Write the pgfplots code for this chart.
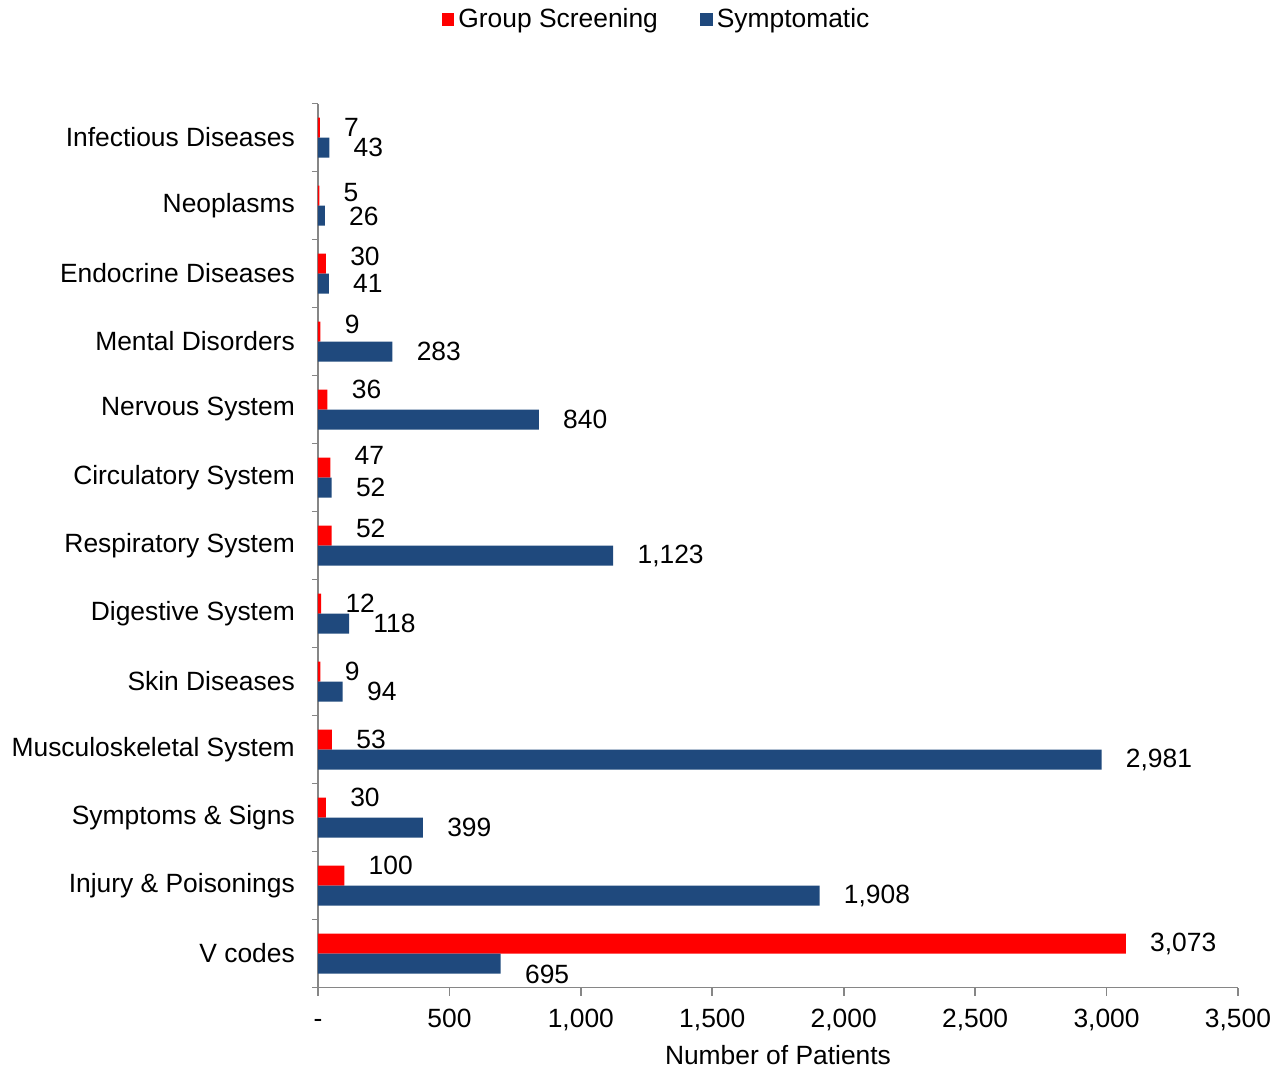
\documentclass[border=0pt]{standalone}
\usepackage{pgfplots}
\pgfplotsset{compat=1.18}
\usepackage{pgfplotstable}
\usepackage{fontspec}
\setmainfont{Liberation Sans}
\definecolor{gsred}{HTML}{FF0000}
\definecolor{symblue}{HTML}{1F497D}
\definecolor{axgray}{HTML}{868686}
\pgfplotstableread{
y x dy
12 7 0
11 5 1.5
10 30 3.5
9 9 3.5
8 36 5
7 47 6
6 52 3.5
5 12 0
4 9 0
3 53 0
2 30 5
1 100 5
0 3073 0
}\redtab
\pgfplotstableread{
y x dy
12 43 0
11 26 -0.5
10 41 0
9 283 0
8 840 0
7 52 0
6 1123 0
5 118 0
4 94 0
3 2981 0
2 399 0
1 1908 0
0 695 -5.5
}\bluetab
\begin{document}
\fontsize{13.2}{15.8}\selectfont
\begin{tikzpicture}
\begin{axis}[
 name=main,
 scale only axis, width=460pt, height=442pt,
 xmin=0, xmax=3500, ymin=-0.5, ymax=12.5,
 xbar, bar width=10pt,
 axis x line*=bottom, axis y line*=left,
 axis line style={axgray, line width=0.8pt},
 xtick={0,500,...,3500},
 xticklabels={{\vphantom{0}-},500,{1,000},{1,500},{2,000},{2,500},{3,000},{3,500}},
 ytick={0,...,12},
 yticklabels={V codes, Injury \& Poisonings, Symptoms \& Signs, Musculoskeletal System, Skin Diseases, Digestive System, Respiratory System, Circulatory System, Nervous System, Mental Disorders, Endocrine Diseases, Neoplasms, Infectious Diseases},
 minor ytick={-0.5,0.5,...,12.5},
 tick align=outside,
 major tick length=4pt, minor tick length=3pt,
 major y tick style={draw=none},
 minor y tick style={axgray, line width=0.8pt},
 major x tick style={axgray, line width=0.8pt},
 tick label style={font=\fontsize{13.2}{15.8}\selectfont},
 yticklabel style={xshift=-3pt},
 xticklabel style={yshift=-2pt},
 every axis x label/.style={at={(axis description cs:0.5,0)}, anchor=center, yshift=-34pt},
 xlabel={Number of Patients},
 nodes near coords,
 nodes near coords style={anchor=west, inner sep=0pt, xshift=12pt, text=black, font=\fontsize{13.2}{15.8}\selectfont},
 /pgf/number format/.cd, 1000 sep={,}, assume math mode=true, fixed, precision=0,
 /pgfplots/.cd,
 legend style={at={(0.369,1.095)}, anchor=center, draw=none, legend columns=2,
   /tikz/every even column/.append style={column sep=19pt},
   font=\fontsize{13.2}{15.8}\selectfont},
 legend image code/.code={\fill[#1] (0pt,-3.2pt) rectangle (6.4pt,3.2pt);},
]
\addplot[xbar, bar shift=5pt, fill=gsred, draw=none,
  visualization depends on={\thisrow{dy} \as \dy},
  every node near coord/.append style={yshift=\dy pt}] table[x=x,y=y]{\redtab};
\addlegendentry{Group Screening}
\addplot[xbar, bar shift=-5pt, fill=symblue, draw=none,
  visualization depends on={\thisrow{dy} \as \dy},
  every node near coord/.append style={yshift=\dy pt}] table[x=x,y=y]{\bluetab};
\addlegendentry{Symptomatic}
\end{axis}
\path ([xshift=-159pt,yshift=-41pt]main.south west) rectangle ([xshift=482pt,yshift=493.5pt]main.south west);
\end{tikzpicture}
\end{document}
